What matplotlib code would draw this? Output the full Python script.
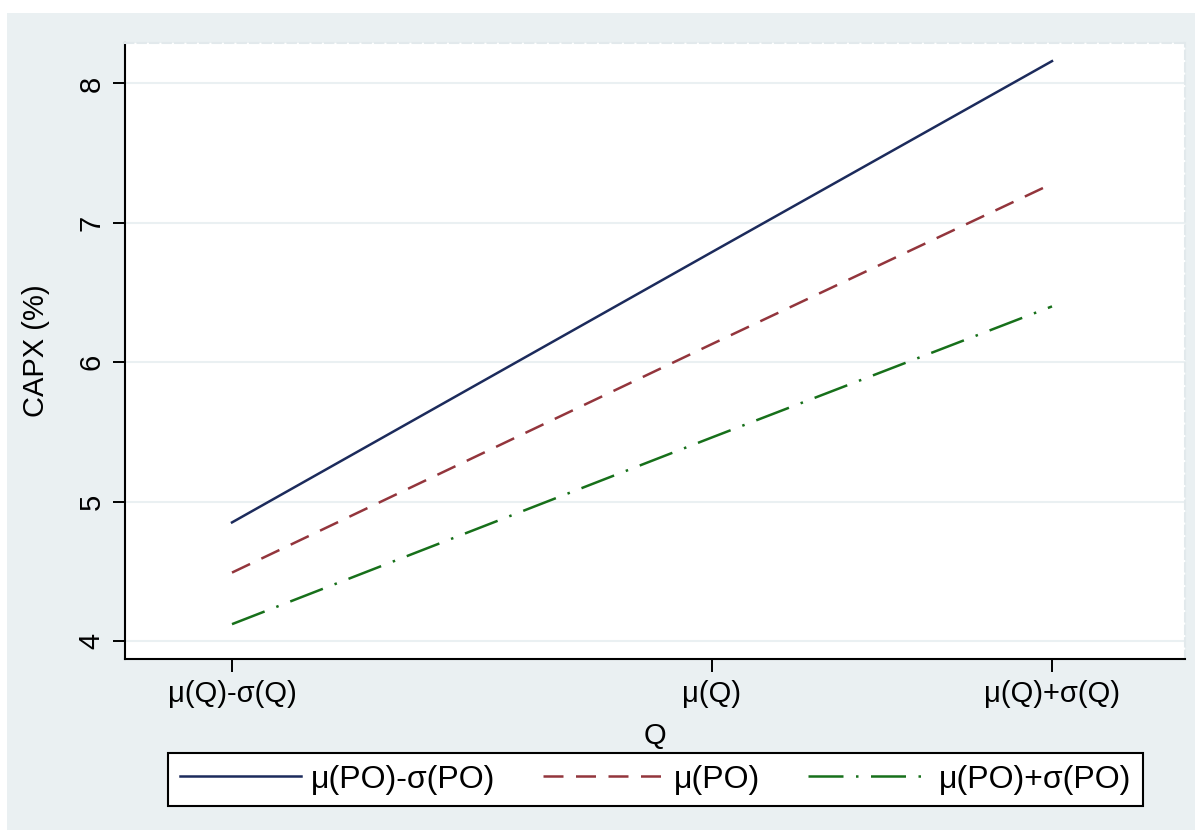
import numpy as np
import matplotlib.pyplot as plt
from matplotlib.patches import Rectangle

plt.rcParams['font.family'] = ['Liberation Sans', 'DejaVu Sans']

# Q positions (uneven, as in the original figure)
q_vals = [0.0, 4.8, 8.2]
q_labels = ['μ(Q)-σ(Q)', 'μ(Q)', 'μ(Q)+σ(Q)']

capx_low_po = [4.85, 6.79, 8.16]
capx_mean_po = [4.49, 6.13, 7.28]
capx_high_po = [4.12, 5.46, 6.40]
series_labels = ['μ(PO)-σ(PO)', 'μ(PO)', 'μ(PO)+σ(PO)']

bg = '#eaf0f2'

fig = plt.figure(figsize=(12.02, 8.38), dpi=100, facecolor='white')
fig.add_artist(Rectangle((7 / 1202, 1 - 830 / 838), 1188 / 1202, 817 / 838,
                         transform=fig.transFigure, facecolor=bg,
                         edgecolor='none', zorder=-5))

ax = fig.add_axes([125 / 1202, 1 - 659 / 838, 1060 / 1202, 616 / 838])
ax.set_facecolor('white')

ax.plot(q_vals, capx_low_po, color='#1c2b5c', lw=1.8, label=series_labels[0])
ax.plot(q_vals, capx_mean_po, color='#93353c', lw=1.8, ls=(0, (8, 5)),
        label=series_labels[1])
ax.plot(q_vals, capx_high_po, color='#17701a', lw=1.8, ls=(0, (14, 5, 1, 5)),
        label=series_labels[2])

ax.set_xlim(-1.07, 9.53)
ax.set_ylim(3.87, 8.29)
ax.set_yticks([4, 5, 6, 7, 8])
ax.set_xticks(q_vals)
ax.set_xticklabels(q_labels)
ax.grid(axis='y', color=bg, lw=1.5)
ax.set_axisbelow(True)

ax.tick_params(axis='both', labelsize=21, length=9, width=1.4, colors='black')
ax.tick_params(axis='x', pad=6)
ax.tick_params(axis='y', pad=5)
for lab in ax.get_yticklabels():
    lab.set_rotation(90)
    lab.set_va('center')

for s in ['left', 'bottom']:
    ax.spines[s].set_linewidth(1.5)
for s in ['top', 'right']:
    ax.spines[s].set_color('#e2e9ec')
    ax.spines[s].set_linestyle((0, (4, 2)))
    ax.spines[s].set_linewidth(1.5)

ax.set_ylabel('CAPX (%)', fontsize=21, labelpad=20)
ax.set_xlabel('Q', fontsize=21, labelpad=10)

leg = fig.legend(loc='center', bbox_to_anchor=(655.5 / 1202, 1 - 779.5 / 838),
                 ncol=3, fontsize=23, handlelength=3.8, handletextpad=0.3,
                 columnspacing=1.5, frameon=True, fancybox=False,
                 borderpad=0.35, framealpha=1)
leg.get_frame().set_edgecolor('black')
leg.get_frame().set_facecolor('white')
leg.get_frame().set_linewidth(1.5)

fig.savefig('out.png', dpi=100, facecolor='white')
